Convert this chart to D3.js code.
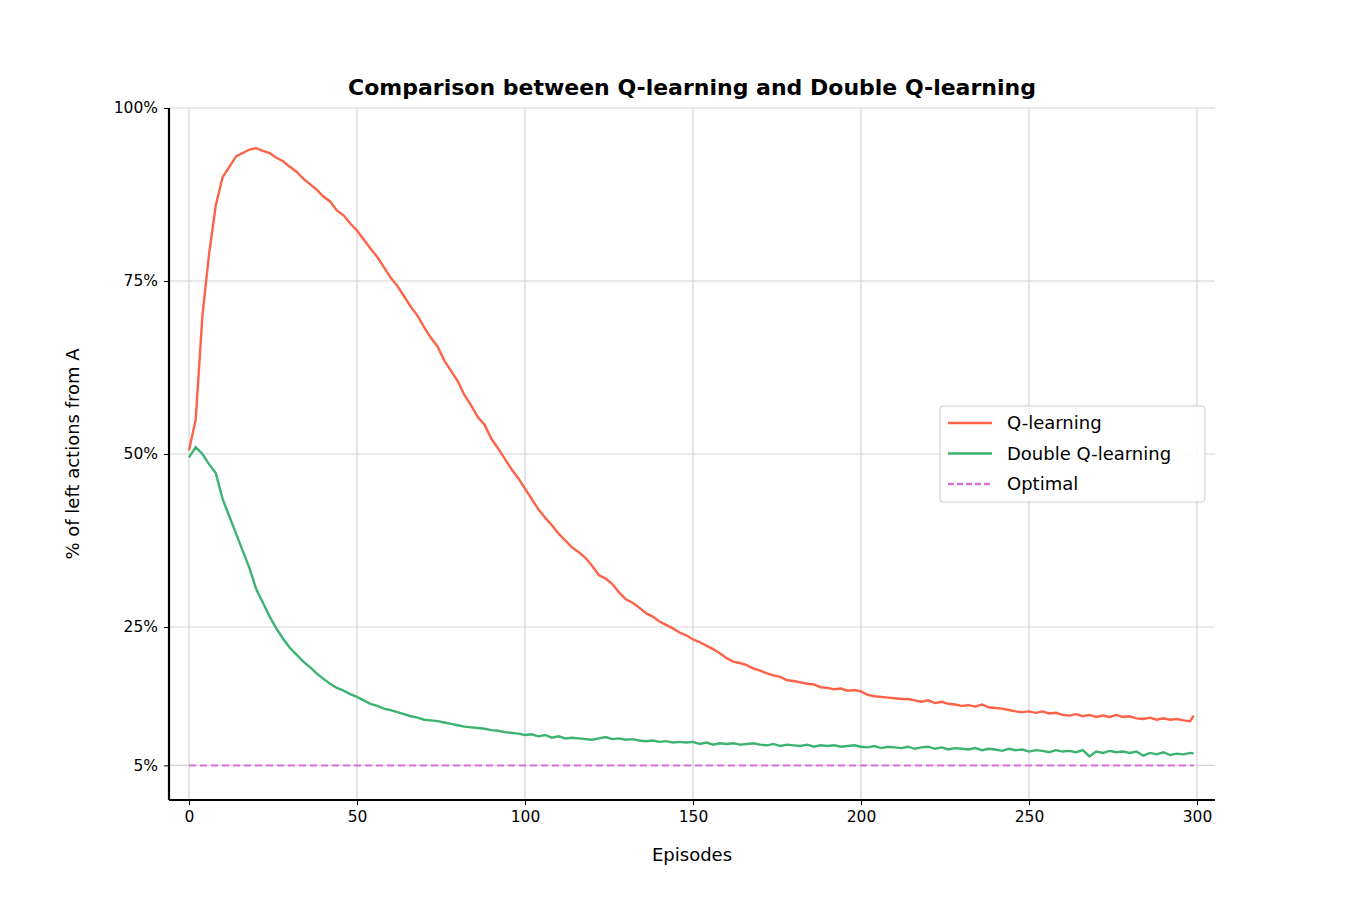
<!DOCTYPE html>
<html><head><meta charset="utf-8">
<script src="https://cdn.jsdelivr.net/npm/d3@7"></script>
<style>body{margin:0;background:#fff;font-family:"DejaVu Sans",sans-serif}svg text{font-family:"DejaVu Sans",sans-serif}</style>
</head><body><svg id="c" width="1350" height="900"></svg>
<script>
const episodes = d3.range(0,300,2).concat([299]);
const qLearning = [50.5,55,70,79,86,90,91.5,93,93.5,94,94.2,93.8,93.5,92.8,92.3,91.5,90.8,89.8,89,88.2,87.2,86.5,85.2,84.5,83.3,82.3,81,79.7,78.5,77,75.5,74.3,72.8,71.3,70,68.3,66.8,65.5,63.5,62,60.5,58.5,57,55.3,54.2,52.2,50.8,49.3,47.8,46.5,45,43.5,42,40.8,39.7,38.5,37.5,36.5,35.8,35,33.8,32.5,32,31.2,30,29,28.5,27.8,27,26.5,25.8,25.3,24.8,24.2,23.8,23.2,22.8,22.3,21.8,21.2,20.5,20,19.8,19.5,19,18.7,18.3,18,17.8,17.3,17.2,17.0,16.8,16.7,16.3,16.2,16.0,16.1,15.8,15.9,15.7,15.2,15.0,14.9,14.8,14.7,14.6,14.6,14.4,14.2,14.4,14.0,14.2,13.9,13.8,13.6,13.7,13.5,13.8,13.4,13.3,13.2,13.0,12.8,12.7,12.8,12.6,12.8,12.5,12.6,12.3,12.2,12.4,12.1,12.3,12.0,12.2,12.0,12.3,12.0,12.1,11.8,11.7,11.9,11.6,11.8,11.6,11.7,11.5,11.4,12.2];
const doubleQ = [49.5,51,50,48.5,47.2,43.5,41,38.5,36,33.5,30.5,28.5,26.5,24.8,23.3,22,21,20,19.2,18.3,17.5,16.8,16.2,15.8,15.3,14.9,14.4,13.9,13.6,13.2,13.0,12.7,12.4,12.1,11.9,11.6,11.5,11.4,11.2,11.0,10.8,10.6,10.5,10.4,10.3,10.1,10.0,9.8,9.7,9.6,9.4,9.5,9.2,9.4,9.0,9.2,8.9,9.0,8.9,8.8,8.7,8.9,9.1,8.8,8.9,8.7,8.8,8.6,8.5,8.6,8.4,8.5,8.3,8.4,8.3,8.4,8.1,8.3,8.0,8.2,8.1,8.2,8.0,8.1,8.2,8.0,7.9,8.1,7.8,8.0,7.9,7.8,8.0,7.7,7.9,7.8,7.9,7.7,7.8,7.9,7.7,7.6,7.8,7.5,7.7,7.6,7.5,7.7,7.4,7.6,7.7,7.4,7.6,7.3,7.5,7.4,7.3,7.5,7.2,7.4,7.3,7.1,7.4,7.2,7.3,7.0,7.2,7.1,6.9,7.2,7.0,7.1,6.9,7.2,6.3,7.0,6.8,7.1,6.9,7.0,6.8,7.0,6.4,6.8,6.6,6.9,6.5,6.7,6.6,6.8,6.7];
const optimal = 5;
const yTicks = [5,25,50,75,100];
const xTicks = [0,50,100,150,200,250,300];

const svg = d3.select("#c");
const L=169,R=1215,T=108,B=800;
const x = d3.scaleLinear().domain([-5.95,305.36]).range([L,R]);
const y = d3.scaleLinear().domain([0,100]).range([B,T]);

svg.append("g").selectAll("line").data(xTicks).join("line")
  .attr("x1",d=>x(d)).attr("x2",d=>x(d)).attr("y1",T).attr("y2",B).attr("stroke","#d3d3d3").attr("stroke-width",1.2);
svg.append("g").selectAll("line").data(yTicks).join("line")
  .attr("x1",L).attr("x2",R).attr("y1",d=>y(d)).attr("y2",d=>y(d)).attr("stroke","#d3d3d3").attr("stroke-width",1.2);

const xa = svg.append("g").attr("transform",`translate(0,${B})`)
  .call(d3.axisBottom(x).tickValues(xTicks).tickSize(5).tickPadding(6));
const ya = svg.append("g").attr("transform",`translate(${L},0)`)
  .call(d3.axisLeft(y).tickValues(yTicks).tickFormat(d=>d+"%").tickSize(5).tickPadding(6));
[xa,ya].forEach(a=>{a.attr("font-size",null).attr("font-family",null);
  a.selectAll("text").style("font-size","15.5px").style("fill","#000");
  a.selectAll(".tick line").attr("stroke","#000").attr("stroke-width",1);
  a.select(".domain").remove();});
svg.append("line").attr("x1",L).attr("x2",R).attr("y1",B).attr("y2",B).attr("stroke","#000").attr("stroke-width",2.2);
svg.append("line").attr("x1",L).attr("x2",L).attr("y1",T).attr("y2",B).attr("stroke","#000").attr("stroke-width",2.2);

const line = d3.line().x((d,i)=>x(episodes[i])).y(d=>y(d));
svg.append("path").datum(qLearning).attr("d",line).attr("fill","none").attr("stroke","#ff6347").attr("stroke-width",2.4);
svg.append("path").datum(doubleQ).attr("d",line).attr("fill","none").attr("stroke","#3cb371").attr("stroke-width",2.4);
svg.append("line").attr("x1",x(0)).attr("x2",x(299)).attr("y1",y(optimal)).attr("y2",y(optimal))
  .attr("stroke","#da70d6").attr("stroke-width",2).attr("stroke-dasharray","7,4");

svg.append("text").attr("x",692).attr("y",95).attr("text-anchor","middle").style("font-size","22px").style("font-weight","bold").text("Comparison between Q-learning and Double Q-learning");
svg.append("text").attr("x",692).attr("y",861).attr("text-anchor","middle").style("font-size","18px").text("Episodes");
svg.append("text").attr("transform","translate(79,454) rotate(-90)").attr("text-anchor","middle").style("font-size","18px").text("% of left actions from A");

const lg = svg.append("g");
lg.append("rect").attr("x",940).attr("y",406).attr("width",265).attr("height",96).attr("rx",3).attr("fill","#fff").attr("fill-opacity",0.85).attr("stroke","#ccc");
const items=[["Q-learning","#ff6347",null],["Double Q-learning","#3cb371",null],["Optimal","#da70d6","6,3"]];
items.forEach((it,i)=>{const yy=423+i*30.5;
  lg.append("line").attr("x1",948).attr("x2",992).attr("y1",yy).attr("y2",yy).attr("stroke",it[1]).attr("stroke-width",2.4).attr("stroke-dasharray",it[2]);
  lg.append("text").attr("x",1007).attr("y",yy+6).style("font-size","18px").text(it[0]);});
</script></body></html>
